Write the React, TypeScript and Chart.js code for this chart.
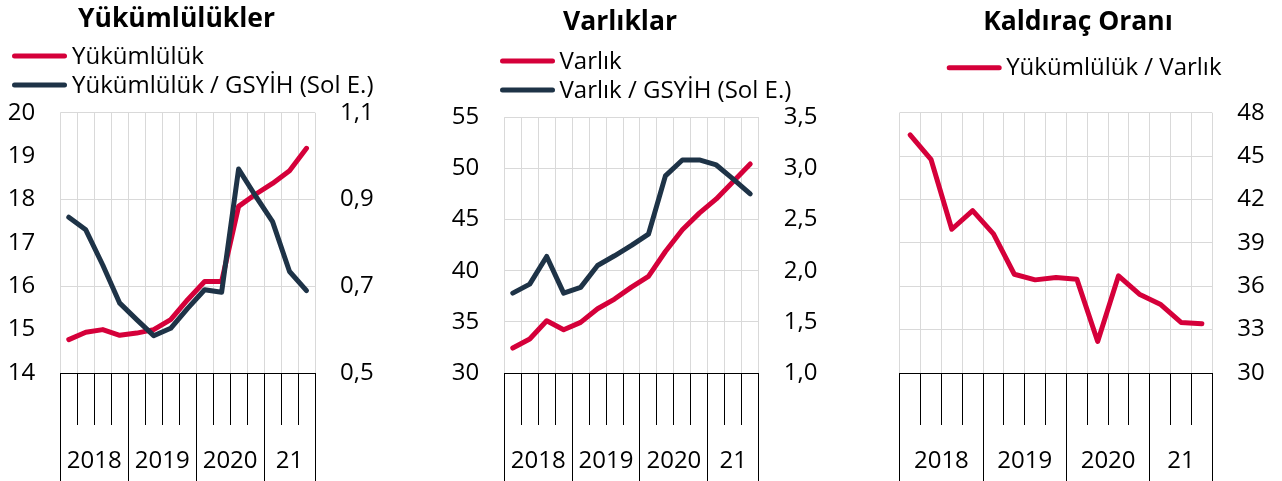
import React, { useEffect, useRef } from 'react';
import { Chart, registerables } from 'chart.js';

Chart.register(...registerables);

// ---------- data ----------
const quarterLabels = [
  '2018-Ç1', '2018-Ç2', '2018-Ç3', '2018-Ç4',
  '2019-Ç1', '2019-Ç2', '2019-Ç3', '2019-Ç4',
  '2020-Ç1', '2020-Ç2', '2020-Ç3', '2020-Ç4',
  '2021-Ç1', '2021-Ç2', '2021-Ç3',
];
const yearLabels = ['2018', '2019', '2020', '21'];
const yearQuarterCounts = [4, 4, 4, 3];

// Panel 1 – Yükümlülükler
const liabilities = [0.577, 0.594, 0.600, 0.587, 0.592, 0.600, 0.623, 0.669, 0.711, 0.711, 0.884, 0.912, 0.937, 0.966, 1.018];
const liabilitiesToGdp = [17.59, 17.30, 16.49, 15.61, 15.23, 14.86, 15.03, 15.49, 15.92, 15.86, 18.70, 18.08, 17.49, 16.34, 15.90];

// Panel 2 – Varlıklar
const assets = [1.244, 1.332, 1.511, 1.423, 1.495, 1.628, 1.723, 1.840, 1.944, 2.188, 2.400, 2.563, 2.702, 2.872, 3.044];
const assetsToGdp = [37.81, 38.69, 41.39, 37.81, 38.37, 40.51, 41.46, 42.47, 43.57, 49.27, 50.83, 50.83, 50.34, 48.95, 47.51];

// Panel 3 – Kaldıraç Oranı
const leverage = [46.46, 44.78, 39.94, 41.23, 39.62, 36.83, 36.44, 36.60, 36.49, 32.18, 36.72, 35.45, 34.76, 33.50, 33.40];

// tick settings
const p1LeftTicks = { min: 14, max: 20, step: 1 };
const p1RightTicks = { min: 0.5, max: 1.1, step: 0.2 };
const p2LeftTicks = { min: 30, max: 55, step: 5 };
const p2RightTicks = { min: 1.0, max: 3.5, step: 0.5 };
const p3RightTicks = { min: 30, max: 48, step: 3 };

// ---------- styles ----------
const RED = '#D5003A';
const NAVY = '#1E3347';
const GRID = '#D9D9D9';
const FONT = "'Open Sans', sans-serif";
const TICK_SIZE = 24;
const LEGEND_SIZE = 24;
const TITLE_SIZE = 26.5;
const H = 481;

const alignPx = (p: number) => Math.round(p - 0.5) + 0.5;
const comma1 = (v: any) => Number(v).toFixed(1).replace('.', ',');

const decorPlugin = {
  id: 'decor',
  afterDraw(chart: any, _args: any, opts: any) {
    const { ctx } = chart;
    const xs = chart.scales.x;
    const n = chart.data.labels.length;
    const step = (xs.right - xs.left) / n;
    ctx.save();
    // year separators
    const bounds = [0];
    let acc = 0;
    yearQuarterCounts.forEach((c) => { acc += c; bounds.push(acc); });
    ctx.strokeStyle = '#000';
    ctx.lineWidth = 1;
    bounds.forEach((b) => {
      const px = alignPx(xs.left + b * step);
      ctx.beginPath();
      ctx.moveTo(px, xs.top);
      ctx.lineTo(px, xs.bottom);
      ctx.stroke();
    });
    // year labels
    ctx.fillStyle = '#000';
    ctx.font = `${TICK_SIZE}px ${FONT}`;
    ctx.textAlign = 'center';
    ctx.textBaseline = 'alphabetic';
    yearLabels.forEach((lab, i) => {
      const cx = xs.left + ((bounds[i] + bounds[i + 1]) / 2) * step;
      ctx.fillText(lab, cx, xs.bottom - opts.yearLift);
    });
    // title
    ctx.font = `bold ${TITLE_SIZE}px ${FONT}`;
    ctx.fillText(opts.title, opts.titleX, opts.titleY);
    // legend
    ctx.font = `${LEGEND_SIZE}px ${FONT}`;
    ctx.textAlign = 'left';
    chart.data.datasets.forEach((ds: any, i: number) => {
      const y = opts.legendY + i * opts.legendRowGap;
      ctx.strokeStyle = ds.borderColor;
      ctx.lineWidth = 5;
      ctx.lineCap = 'round';
      ctx.beginPath();
      ctx.moveTo(opts.legendX + 2.5, y);
      ctx.lineTo(opts.legendX + opts.swatch - 2.5, y);
      ctx.stroke();
      ctx.fillText(ds.label, opts.legendX + opts.swatch + opts.legendGap, y + 7.5);
    });
    ctx.restore();
  },
};

const xScale = () => ({
  type: 'category',
  position: 'bottom',
  offset: true,
  grid: {
    display: true,
    offset: true,
    color: GRID,
    lineWidth: 1,
    drawOnChartArea: true,
    drawTicks: true,
    tickLength: 52,
    tickColor: '#000',
    tickWidth: 1,
  },
  border: { display: true, color: '#000', width: 1 },
  ticks: { display: false },
  afterFit: (s: any) => { s.height = 108; },
});

const yScale = (position: 'left' | 'right', t: { min: number; max: number; step: number }, withGrid: boolean, fmt?: (v: any) => string) => ({
  type: 'linear',
  position,
  min: t.min,
  max: t.max,
  grid: withGrid
    ? { display: true, drawTicks: false, lineWidth: 1, color: (c: any) => (c.index === 0 ? '#000' : GRID) }
    : { display: false, drawTicks: false },
  border: { display: false },
  ticks: {
    stepSize: t.step,
    padding: 25,
    color: '#000',
    font: { family: FONT, size: TICK_SIZE },
    callback: fmt ? fmt : (v: any) => String(v),
  },
  afterFit: (s: any) => { s.width = 60; },
});

const lineDs = (label: string, data: number[], color: string, axis: string, order: number) => ({
  label,
  data,
  borderColor: color,
  backgroundColor: color,
  borderWidth: 5,
  pointRadius: 0,
  tension: 0,
  borderCapStyle: 'round',
  borderJoinStyle: 'round',
  yAxisID: axis,
  order,
});

const baseOptions = (padding: any, scales: any, decor: any) => ({
  responsive: false,
  animation: false,
  events: [],
  layout: { padding },
  plugins: { legend: { display: false }, tooltip: { enabled: false }, title: { display: false }, decor },
  scales,
});

const panel1 = () => ({
  type: 'line',
  data: {
    labels: quarterLabels,
    datasets: [
      lineDs('Yükümlülük', liabilities, RED, 'y1', 1),
      lineDs('Yükümlülük / GSYİH (Sol E.)', liabilitiesToGdp, NAVY, 'y', 0),
    ],
  },
  options: baseOptions(
    { left: 0.3, right: 55, top: 112.7, bottom: 0 },
    { x: xScale(), y: yScale('left', p1LeftTicks, false), y1: yScale('right', p1RightTicks, true, comma1) },
    { title: 'Yükümlülükler', titleX: 176.5, titleY: 26.5, legendX: 12, legendY: 56, legendRowGap: 29, swatch: 55, legendGap: 5, yearLift: 13.5 }
  ),
  plugins: [decorPlugin],
});

const panel2 = () => ({
  type: 'line',
  data: {
    labels: quarterLabels,
    datasets: [
      lineDs('Varlık', assets, RED, 'y1', 1),
      lineDs('Varlık / GSYİH (Sol E.)', assetsToGdp, NAVY, 'y', 0),
    ],
  },
  options: baseOptions(
    { left: 14.3, right: 41.3, top: 117.3, bottom: 0 },
    { x: xScale(), y: yScale('left', p2LeftTicks, false), y1: yScale('right', p2RightTicks, true, comma1) },
    { title: 'Varlıklar', titleX: 190, titleY: 29.5, legendX: 70, legendY: 61, legendRowGap: 29, swatch: 55, legendGap: 4.5, yearLift: 13.5 }
  ),
  plugins: [decorPlugin],
});

const panel3 = () => ({
  type: 'line',
  data: {
    labels: quarterLabels,
    datasets: [lineDs('Yükümlülük / Varlık', leverage, RED, 'y', 0)],
  },
  options: baseOptions(
    { left: 39.7, right: 9.7, top: 112.7, bottom: 0 },
    { x: xScale(), y: yScale('right', p3RightTicks, true) },
    { title: 'Kaldıraç Oranı', titleX: 218, titleY: 29.5, legendX: 86.7, legendY: 67.7, legendRowGap: 29, swatch: 55, legendGap: 4.5, yearLift: 13.5 }
  ),
  plugins: [decorPlugin],
});

function Panel({ left, width, make }: { left: number; width: number; make: () => any }) {
  const ref = useRef<HTMLCanvasElement | null>(null);
  useEffect(() => {
    if (!ref.current) return;
    const chart = new Chart(ref.current, make());
    return () => chart.destroy();
  }, []);
  return (
    <canvas
      ref={ref}
      width={width}
      height={H}
      style={{ position: 'absolute', left, top: 0, width, height: H, display: 'block' }}
    />
  );
}

export default function App() {
  return (
    <div style={{ position: 'absolute', left: 0, top: 0, width: 1282, height: H, background: '#fff', overflow: 'hidden' }}>
      <Panel left={0} width={430} make={panel1} />
      <Panel left={430} width={430} make={panel2} />
      <Panel left={860} width={422} make={panel3} />
    </div>
  );
}
